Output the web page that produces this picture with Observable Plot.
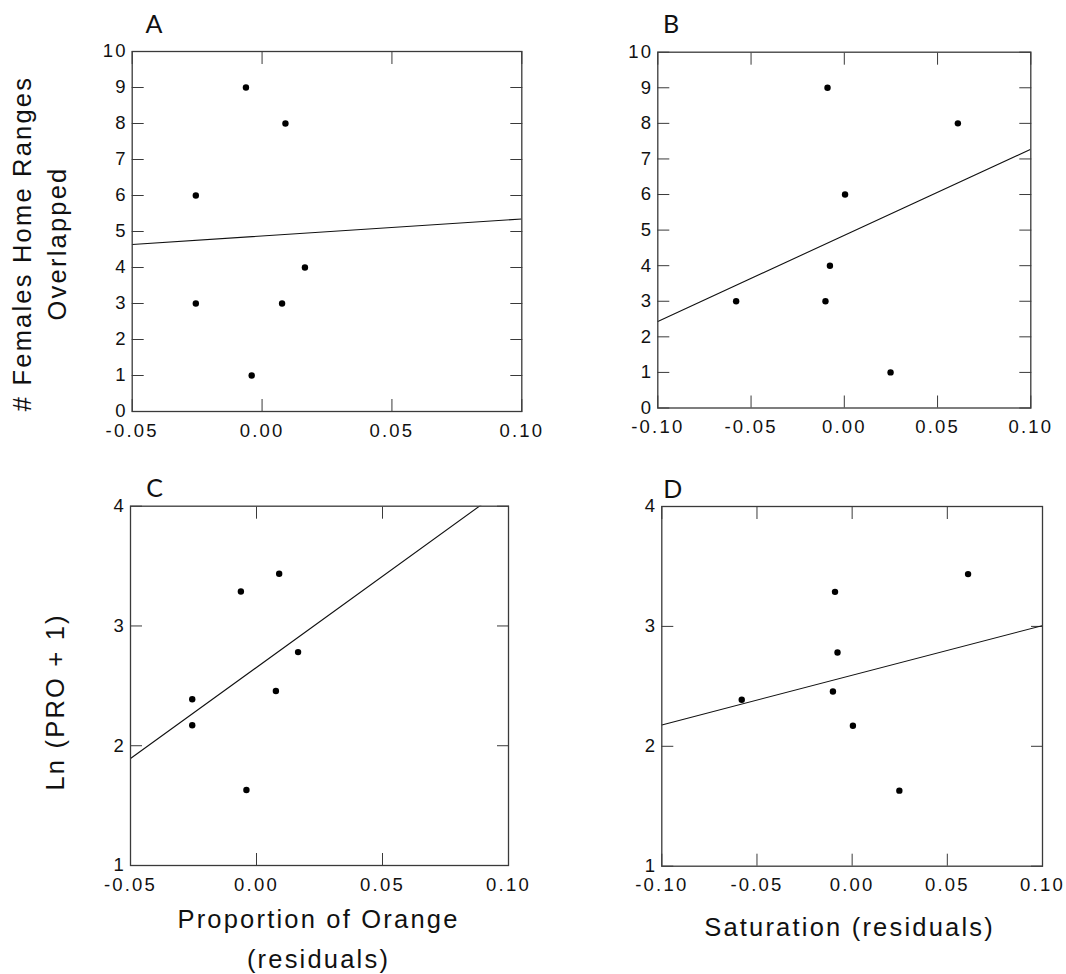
<!DOCTYPE html>
<html>
<head>
<meta charset="utf-8">
<script src="https://cdn.jsdelivr.net/npm/d3@7"></script>
<script src="https://cdn.jsdelivr.net/npm/@observablehq/plot@0.6"></script>
<style>
  html, body { margin: 0; padding: 0; background: #fff; }
  #figure { position: relative; width: 1066px; height: 974px; overflow: hidden; background: #fff; }
  #figure svg { position: absolute; }
</style>
</head>
<body>
<div id="figure"></div>
<script>
// Seven males: number of female home ranges overlapped, ln(PRO + 1),
// and residual colour measures (proportion of orange, saturation).
const femalesOverlapped = [9, 8, 6, 4, 3, 3, 1];
const lnProPlusOne = [3.288, 3.436, 2.171, 2.782, 2.388, 2.457, 1.630];
const orangeResiduals = [-0.0062, 0.0090, -0.0255, 0.0165, -0.0255, 0.0077, -0.0040];
const saturationResiduals = [-0.0090, 0.0609, 0.0004, -0.0077, -0.0580, -0.0101, 0.0248];

// Tick values
const orangeTicks = [-0.05, 0.00, 0.05, 0.10];
const saturationTicks = [-0.10, -0.05, 0.00, 0.05, 0.10];
const overlapTicks = [0, 1, 2, 3, 4, 5, 6, 7, 8, 9, 10];
const lnProTicks = [1, 2, 3, 4];

// Text
const panelLetters = ["A", "B", "C", "D"];
const overlapTitle = "# Females Home Ranges\nOverlapped";
const lnProTitle = "Ln (PRO + 1)";
const orangeTitle = "Proportion of Orange\n(residuals)";
const saturationTitle = "Saturation (residuals)";

const ink = "#3a3a3a";
const textFont = "'Liberation Sans', Arial, Helvetica, sans-serif";
const letterFont = "Lato, 'Open Sans', sans-serif";

// Ordinary least-squares fit of ys on xs
function leastSquares(xs, ys) {
  const mx = d3.mean(xs), my = d3.mean(ys);
  const sxy = d3.sum(xs, (x, i) => (x - mx) * (ys[i] - my));
  const sxx = d3.sum(xs, x => (x - mx) ** 2);
  const slope = sxy / sxx;
  return {slope, intercept: my - slope * mx};
}

// Frame-style axes: labels outside, ticks pointing inward on all four sides
function boxAxes(xTicks, yTicks) {
  const fmtX = d => d.toFixed(2);
  const fmtY = d => String(d);
  const blank = () => "";
  return [
    Plot.axisX({anchor: "bottom", ticks: xTicks, tickSize: 0, tickPadding: 12, tickFormat: fmtX, label: null}),
    Plot.axisX({anchor: "bottom", ticks: xTicks, tickSize: 12, dy: -12, tickFormat: blank, label: null, stroke: ink}),
    Plot.axisX({anchor: "top", ticks: xTicks, tickSize: 12, dy: 12, tickFormat: blank, label: null, stroke: ink}),
    Plot.axisY({anchor: "left", ticks: yTicks, tickSize: 0, tickPadding: 4.5, tickFormat: fmtY, label: null}),
    Plot.axisY({anchor: "left", ticks: yTicks, tickSize: 12, dx: 12, tickFormat: blank, label: null, stroke: ink}),
    Plot.axisY({anchor: "right", ticks: yTicks, tickSize: 12, dx: -12, tickFormat: blank, label: null, stroke: ink})
  ];
}

function scatterPanel(cfg) {
  const rows = cfg.xs.map((x, i) => ({x, y: cfg.ys[i]}));
  const xDomain = d3.extent(cfg.xTicks);
  const yDomain = d3.extent(cfg.yTicks);
  const {slope, intercept} = leastSquares(cfg.xs, cfg.ys);
  const fitRows = xDomain.map(x => ({x, y: intercept + slope * x}));

  const svg = Plot.plot({
    width: cfg.width,
    height: cfg.height,
    marginLeft: cfg.margin[3],
    marginTop: cfg.margin[0],
    marginRight: cfg.margin[1],
    marginBottom: cfg.margin[2],
    x: {domain: xDomain},
    y: {domain: yDomain},
    style: {
      fontFamily: textFont,
      fontSize: "18.5px",
      letterSpacing: "2.2px",
      color: "#111",
      background: "transparent",
      overflow: "visible"
    },
    marks: [
      ...boxAxes(cfg.xTicks, cfg.yTicks),
      Plot.line(fitRows, {x: "x", y: "y", stroke: "#111", strokeWidth: 1.1, clip: true}),
      Plot.dot(rows, {x: "x", y: "y", r: 3.2, fill: "#000"}),
      Plot.frame({stroke: ink, strokeWidth: 1.3}),
      Plot.text([cfg.letter], {
        text: d => d, frameAnchor: "top-left", textAnchor: "start", lineAnchor: "top",
        fontSize: 25, fontFamily: letterFont, dx: cfg.letterAt[0], dy: cfg.letterAt[1]
      }),
      ...(cfg.yTitle ? [Plot.text([cfg.yTitle], {
        text: d => d, frameAnchor: "left", rotate: -90, textAnchor: "middle", lineAnchor: "middle",
        lineHeight: 1.34, fontSize: 25.5, dx: cfg.yTitleAt[0], dy: cfg.yTitleAt[1]
      })] : []),
      ...(cfg.xTitle ? [Plot.text([cfg.xTitle], {
        text: d => d, frameAnchor: "bottom", textAnchor: "middle", lineAnchor: "top",
        lineHeight: 1.545, fontSize: 25.5, dx: cfg.xTitleAt[0], dy: cfg.xTitleAt[1]
      })] : [])
    ]
  });
  svg.style.left = cfg.left + "px";
  svg.style.top = cfg.top + "px";
  return svg;
}

const figure = document.getElementById("figure");

// A: home-range overlap vs orange residuals
figure.appendChild(scatterPanel({
  xs: orangeResiduals, ys: femalesOverlapped,
  xTicks: orangeTicks, yTicks: overlapTicks,
  left: 0, top: 0, width: 560, height: 450,
  margin: [51, 38.7, 39, 131.7],
  letter: panelLetters[0], letterAt: [13.3, -36],
  yTitle: overlapTitle, yTitleAt: [-94.7, 12]
}));

// B: home-range overlap vs saturation residuals
figure.appendChild(scatterPanel({
  xs: saturationResiduals, ys: femalesOverlapped,
  xTicks: saturationTicks, yTicks: overlapTicks,
  left: 540, top: 0, width: 526, height: 450,
  margin: [51.7, 35.7, 42.5, 117.3],
  letter: panelLetters[1], letterAt: [5.2, -36.7]
}));

// C: ln(PRO + 1) vs orange residuals
figure.appendChild(scatterPanel({
  xs: orangeResiduals, ys: lnProPlusOne,
  xTicks: orangeTicks, yTicks: lnProTicks,
  left: 0, top: 450, width: 560, height: 524,
  margin: [55.7, 52, 109, 130],
  letter: panelLetters[2], letterAt: [15.7, -26.7],
  yTitle: lnProTitle, yTitleAt: [-77.6, 16],
  xTitle: orangeTitle, xTitleAt: [-1, 35]
}));

// D: ln(PRO + 1) vs saturation residuals
figure.appendChild(scatterPanel({
  xs: saturationResiduals, ys: lnProPlusOne,
  xTicks: saturationTicks, yTicks: lnProTicks,
  left: 540, top: 450, width: 526, height: 524,
  margin: [56, 24, 108.3, 121.3],
  letter: panelLetters[3], letterAt: [1.4, -26],
  xTitle: saturationTitle, xTitleAt: [-2.6, 42]
}));
</script>
</body>
</html>
